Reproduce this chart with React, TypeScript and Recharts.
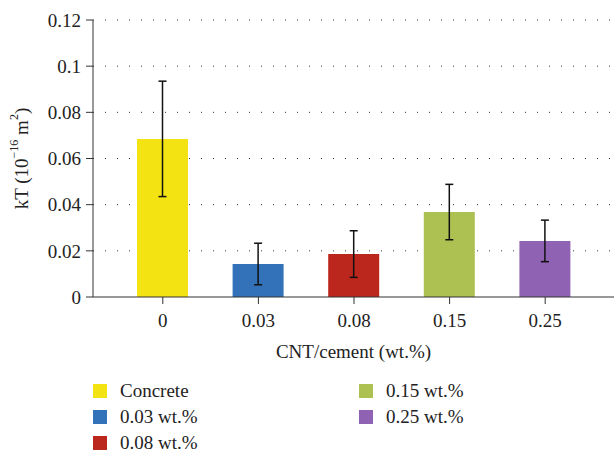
import { BarChart, Bar, Cell, XAxis, YAxis, CartesianGrid, ErrorBar, Label } from "recharts";

const categories = ["0", "0.03", "0.08", "0.15", "0.25"];
const seriesNames = ["Concrete", "0.03 wt.%", "0.08 wt.%", "0.15 wt.%", "0.25 wt.%"];
const kT = [0.0685, 0.0143, 0.0186, 0.0368, 0.0243];
const kTError = [0.025, 0.009, 0.0101, 0.012, 0.009];
const yTicks = [0, 0.02, 0.04, 0.06, 0.08, 0.1, 0.12];

const colors = ["#F4E313", "#3372B9", "#BC271D", "#ADC052", "#8F62B4"];
const FONT = "'Liberation Serif', 'Times New Roman', serif";

const data = categories.map((c, i) => ({ cat: c, value: kT[i], err: kTError[i] }));

function YTitle(props: any) {
  const vb = props.viewBox || {};
  const cx = 21;
  const cy = vb.y + vb.height / 2;
  return (
    <text
      x={cx}
      y={cy}
      transform={`rotate(-90, ${cx}, ${cy})`}
      textAnchor="middle"
      dominantBaseline="central"
      fontFamily={FONT}
      fontSize={19}
      fill="#222"
    >
      kT (10
      <tspan dy={-7} fontSize={12}>−16</tspan>
      <tspan dy={7}> m</tspan>
      <tspan dy={-7} fontSize={12}>2</tspan>
      <tspan dy={7}>)</tspan>
    </text>
  );
}

function XTitle(props: any) {
  const vb = props.viewBox || {};
  return (
    <text
      x={vb.x + vb.width / 2}
      y={vb.y + 61}
      textAnchor="middle"
      fontFamily={FONT}
      fontSize={19}
      fill="#222"
    >
      CNT/cement (wt.%)
    </text>
  );
}

function LegendBox() {
  return (
    <>
      {seriesNames.map((name, i) => {
        const col = i < 3 ? 0 : 1;
        const row = i < 3 ? i : i - 3;
        return (
          <div
            key={name}
            style={{
              position: "absolute",
              left: col === 0 ? 93 : 359,
              top: 391 - 7 + row * 26,
              height: 14,
              lineHeight: "14px",
              display: "flex",
              alignItems: "center",
              fontFamily: FONT,
              fontSize: 19,
              color: "#222",
              whiteSpace: "nowrap",
            }}
          >
            <span style={{ width: 14, height: 14, background: colors[i], marginRight: 13 }} />
            {name}
          </div>
        );
      })}
    </>
  );
}

export default function App() {
  return (
    <div style={{ position: "absolute", left: 0, top: 0, width: 614, height: 453, background: "#fff" }}>
      <BarChart
        width={614}
        height={453}
        data={data}
        margin={{ top: 20, right: 0, left: 0, bottom: 86 }}
      >
        <CartesianGrid
          vertical={false}
          horizontalValues={yTicks.slice(1)}
          stroke="#333"
          strokeDasharray="1 11"
        />
        <XAxis
          dataKey="cat"
          height={70}
          padding={{ left: 22, right: 21 }}
          tickSize={7}
          tickMargin={10}
          stroke="#333"
          tick={{ fontFamily: FONT, fontSize: 19, fill: "#222" }}
        >
          <Label content={XTitle} />
        </XAxis>
        <YAxis
          width={93}
          domain={[0, 0.12]}
          ticks={yTicks}
          tickSize={7}
          tickMargin={5}
          stroke="#333"
          tick={{ fontFamily: FONT, fontSize: 19, fill: "#222" }}
        >
          <Label content={YTitle} />
        </YAxis>
        <Bar dataKey="value" barSize={51} isAnimationActive={false}>
          {data.map((d, i) => (
            <Cell key={d.cat} fill={colors[i]} />
          ))}
          <ErrorBar dataKey="err" width={4} strokeWidth={1.5} stroke="#111" />
        </Bar>
      </BarChart>
      <LegendBox />
    </div>
  );
}
